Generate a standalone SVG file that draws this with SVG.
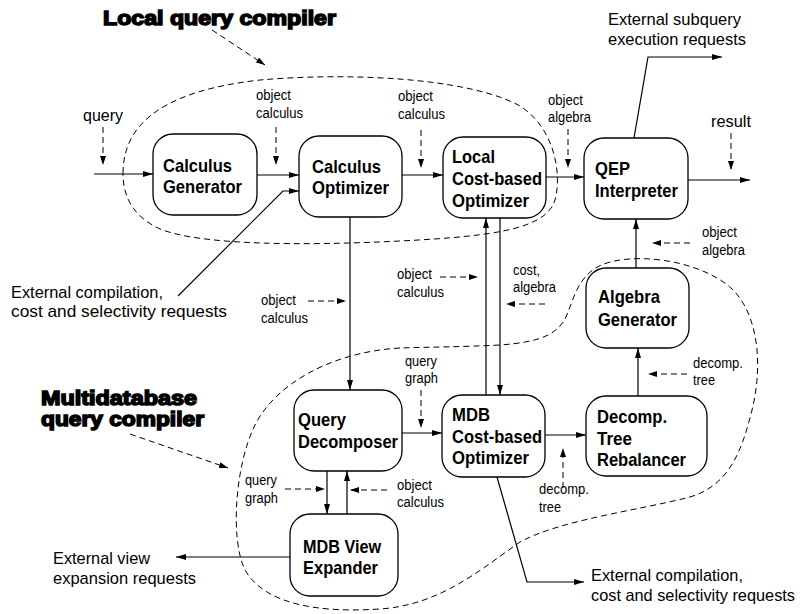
<svg xmlns="http://www.w3.org/2000/svg" width="800" height="614" viewBox="0 0 800 614">
<defs>
<style>
.box{fill:#fff;stroke:#000;stroke-width:1.3}
.nl{font-family:"Liberation Sans",Arial,sans-serif;font-weight:bold;font-size:19px;fill:#000}
.sl{font-family:"Liberation Sans",Arial,sans-serif;font-size:14px;fill:#000}
.bl{font-family:"Liberation Sans",Arial,sans-serif;font-size:17px;fill:#000}
.el{font-family:"Liberation Sans",Arial,sans-serif;font-size:17px;fill:#000}
.tl{font-family:"Liberation Sans",Arial,sans-serif;font-weight:bold;font-size:20px;fill:#000;stroke:#000;stroke-width:1.5}
.sol{fill:none;stroke:#000;stroke-width:1.2;marker-end:url(#ah)}
.dsh{fill:none;stroke:#000;stroke-width:1;stroke-dasharray:6,4;marker-end:url(#ahs)}
.loop{fill:none;stroke:#000;stroke-width:1;stroke-dasharray:6,4}
</style>
<marker id="ah" viewBox="0 0 10 6" refX="10" refY="3" markerWidth="10" markerHeight="6" orient="auto" markerUnits="userSpaceOnUse"><path d="M0,0 L10,3 L0,6 Z" fill="#000"/></marker>
<marker id="ahs" viewBox="0 0 9 6" refX="9" refY="3" markerWidth="9" markerHeight="6" orient="auto" markerUnits="userSpaceOnUse"><path d="M0,0 L9,3 L0,6 Z" fill="#000"/></marker>
</defs>
<rect width="800" height="614" fill="#fff"/>

<g id="boundaries">
<path class="loop" d="M123,173 C123,120 170,90 260,80 C350,72 470,78 520,106 C555,128 562,175 555,200 C546,228 500,236 400,241 C300,246 200,245 160,229 C132,216 123,196 123,173 Z"/>
<path class="loop" d="M400,348 C330,352 275,385 255,425 C235,465 230,540 245,570 C265,605 320,613 380,609 C440,605 480,570 520,542 C560,520 640,510 690,497 C730,485 742,450 752,410 C762,370 760,320 735,292 C710,265 650,252 610,262 C580,270 575,295 568,312 C560,335 540,342 500,345 C460,347 430,347 400,348 Z"/>
</g>

<g id="titles">
<text class="tl" x="103" y="25" textLength="233" lengthAdjust="spacingAndGlyphs">Local query compiler</text>
<text class="tl" x="41" y="405" textLength="156" lengthAdjust="spacingAndGlyphs">Multidatabase</text>
<text class="tl" x="41" y="426" textLength="163" lengthAdjust="spacingAndGlyphs">query compiler</text>
</g>

<g id="connectors">
<path class="sol" d="M94,174 H153"/>
<path class="sol" d="M257,175 H299"/>
<path class="sol" d="M178,296 L283,191 H299"/>
<path class="sol" d="M402,175 H443"/>
<path class="sol" d="M546,177 H584"/>
<path class="sol" d="M688,180 H750"/>
<path class="sol" d="M634,138 L648,57 H722"/>
<path class="sol" d="M350,217 V390"/>
<path class="sol" d="M486,395 V218"/>
<path class="sol" d="M500,218 V395"/>
<path class="sol" d="M636,268 V219"/>
<path class="sol" d="M638,396 V348"/>
<path class="sol" d="M402,433 H442"/>
<path class="sol" d="M545,435 H586"/>
<path class="sol" d="M327,471 V514"/>
<path class="sol" d="M347,514 V471"/>
<path class="sol" d="M290,557 H176"/>
<path class="sol" d="M497,477 L527,582 H584"/>
<path class="dsh" d="M103,127 V165"/>
<path class="dsh" d="M276,127 V165"/>
<path class="dsh" d="M421,130 V168"/>
<path class="dsh" d="M568,129 V168"/>
<path class="dsh" d="M731,133 V170"/>
<path class="dsh" d="M690,243 H652"/>
<path class="dsh" d="M308,301 H346"/>
<path class="dsh" d="M440,277 H478"/>
<path class="dsh" d="M545,304 H506"/>
<path class="dsh" d="M421,390 V428"/>
<path class="dsh" d="M687,374 H648"/>
<path class="dsh" d="M563,488 V448"/>
<path class="dsh" d="M285,489 H325"/>
<path class="dsh" d="M387,490 H350"/>
<path class="dsh" d="M212,30 L265,65"/>
<path class="dsh" d="M130,434 L228,468"/>
</g>

<g id="calculus-generator">
<rect class="box" x="153" y="134" width="104" height="81" rx="20"/>
<text class="nl" x="163" y="172" textLength="69" lengthAdjust="spacingAndGlyphs">Calculus</text>
<text class="nl" x="163" y="193" textLength="79" lengthAdjust="spacingAndGlyphs">Generator</text>
</g>
<g id="calculus-optimizer">
<rect class="box" x="299" y="136" width="103" height="81" rx="20"/>
<text class="nl" x="312" y="173" textLength="69" lengthAdjust="spacingAndGlyphs">Calculus</text>
<text class="nl" x="312" y="194" textLength="77" lengthAdjust="spacingAndGlyphs">Optimizer</text>
</g>
<g id="local-cost-based-optimizer">
<rect class="box" x="443" y="137" width="103" height="81" rx="20"/>
<text class="nl" x="452" y="163" textLength="43" lengthAdjust="spacingAndGlyphs">Local</text>
<text class="nl" x="452" y="185" textLength="90" lengthAdjust="spacingAndGlyphs">Cost-based</text>
<text class="nl" x="452" y="207" textLength="77" lengthAdjust="spacingAndGlyphs">Optimizer</text>
</g>
<g id="qep-interpreter">
<rect class="box" x="584" y="138" width="104" height="81" rx="20"/>
<text class="nl" x="595" y="175" textLength="35" lengthAdjust="spacingAndGlyphs">QEP</text>
<text class="nl" x="595" y="197" textLength="83" lengthAdjust="spacingAndGlyphs">Interpreter</text>
</g>
<g id="algebra-generator">
<rect class="box" x="586" y="268" width="103" height="80" rx="20"/>
<text class="nl" x="598" y="303" textLength="62" lengthAdjust="spacingAndGlyphs">Algebra</text>
<text class="nl" x="598" y="326" textLength="79" lengthAdjust="spacingAndGlyphs">Generator</text>
</g>
<g id="decomp-tree-rebalancer">
<rect class="box" x="586" y="396" width="121" height="80" rx="20"/>
<text class="nl" x="597" y="423" textLength="70" lengthAdjust="spacingAndGlyphs">Decomp.</text>
<text class="nl" x="597" y="445" textLength="35" lengthAdjust="spacingAndGlyphs">Tree</text>
<text class="nl" x="597" y="466" textLength="89" lengthAdjust="spacingAndGlyphs">Rebalancer</text>
</g>
<g id="mdb-cost-based-optimizer">
<rect class="box" x="442" y="395" width="103" height="82" rx="20"/>
<text class="nl" x="452" y="421" textLength="38" lengthAdjust="spacingAndGlyphs">MDB</text>
<text class="nl" x="452" y="443" textLength="90" lengthAdjust="spacingAndGlyphs">Cost-based</text>
<text class="nl" x="452" y="464" textLength="77" lengthAdjust="spacingAndGlyphs">Optimizer</text>
</g>
<g id="query-decomposer">
<rect class="box" x="294" y="390" width="108" height="81" rx="20"/>
<text class="nl" x="298" y="426" textLength="48" lengthAdjust="spacingAndGlyphs">Query</text>
<text class="nl" x="298" y="448" textLength="100" lengthAdjust="spacingAndGlyphs">Decomposer</text>
</g>
<g id="mdb-view-expander">
<rect class="box" x="290" y="514" width="108" height="82" rx="20"/>
<text class="nl" x="303" y="553" textLength="78" lengthAdjust="spacingAndGlyphs">MDB View</text>
<text class="nl" x="303" y="574" textLength="75" lengthAdjust="spacingAndGlyphs">Expander</text>
</g>

<g id="labels">
<text class="bl" x="83" y="121" textLength="40" lengthAdjust="spacingAndGlyphs">query</text>
<text class="bl" x="711" y="127" textLength="40" lengthAdjust="spacingAndGlyphs">result</text>
<text class="sl" x="256" y="100" textLength="35" lengthAdjust="spacingAndGlyphs">object</text>
<text class="sl" x="256" y="118" textLength="47" lengthAdjust="spacingAndGlyphs">calculus</text>
<text class="sl" x="398" y="101" textLength="35" lengthAdjust="spacingAndGlyphs">object</text>
<text class="sl" x="398" y="119" textLength="47" lengthAdjust="spacingAndGlyphs">calculus</text>
<text class="sl" x="548" y="105" textLength="35" lengthAdjust="spacingAndGlyphs">object</text>
<text class="sl" x="548" y="122" textLength="43" lengthAdjust="spacingAndGlyphs">algebra</text>
<text class="sl" x="702" y="237" textLength="35" lengthAdjust="spacingAndGlyphs">object</text>
<text class="sl" x="702" y="255" textLength="43" lengthAdjust="spacingAndGlyphs">algebra</text>
<text class="sl" x="261" y="305" textLength="35" lengthAdjust="spacingAndGlyphs">object</text>
<text class="sl" x="261" y="323" textLength="47" lengthAdjust="spacingAndGlyphs">calculus</text>
<text class="sl" x="397" y="279" textLength="35" lengthAdjust="spacingAndGlyphs">object</text>
<text class="sl" x="397" y="297" textLength="47" lengthAdjust="spacingAndGlyphs">calculus</text>
<text class="sl" x="513" y="275" textLength="27" lengthAdjust="spacingAndGlyphs">cost,</text>
<text class="sl" x="513" y="292" textLength="43" lengthAdjust="spacingAndGlyphs">algebra</text>
<text class="sl" x="405" y="366" textLength="32" lengthAdjust="spacingAndGlyphs">query</text>
<text class="sl" x="405" y="383" textLength="33" lengthAdjust="spacingAndGlyphs">graph</text>
<text class="sl" x="693" y="368" textLength="50" lengthAdjust="spacingAndGlyphs">decomp.</text>
<text class="sl" x="693" y="385" textLength="22" lengthAdjust="spacingAndGlyphs">tree</text>
<text class="sl" x="539" y="494" textLength="50" lengthAdjust="spacingAndGlyphs">decomp.</text>
<text class="sl" x="539" y="512" textLength="22" lengthAdjust="spacingAndGlyphs">tree</text>
<text class="sl" x="245" y="485" textLength="32" lengthAdjust="spacingAndGlyphs">query</text>
<text class="sl" x="245" y="503" textLength="33" lengthAdjust="spacingAndGlyphs">graph</text>
<text class="sl" x="397" y="490" textLength="35" lengthAdjust="spacingAndGlyphs">object</text>
<text class="sl" x="397" y="507" textLength="47" lengthAdjust="spacingAndGlyphs">calculus</text>
<text class="el" x="11" y="298" textLength="152" lengthAdjust="spacingAndGlyphs">External compilation,</text>
<text class="el" x="11" y="317" textLength="216" lengthAdjust="spacingAndGlyphs">cost and selectivity requests</text>
<text class="el" x="608" y="25" textLength="133" lengthAdjust="spacingAndGlyphs">External subquery</text>
<text class="el" x="608" y="45" textLength="138" lengthAdjust="spacingAndGlyphs">execution requests</text>
<text class="el" x="53" y="564" textLength="97" lengthAdjust="spacingAndGlyphs">External view</text>
<text class="el" x="53" y="584" textLength="143" lengthAdjust="spacingAndGlyphs">expansion requests</text>
<text class="el" x="591" y="581" textLength="152" lengthAdjust="spacingAndGlyphs">External compilation,</text>
<text class="el" x="591" y="601" style="font-size:16.5px" textLength="204" lengthAdjust="spacingAndGlyphs">cost and selectivity requests</text>
</g>
</svg>
